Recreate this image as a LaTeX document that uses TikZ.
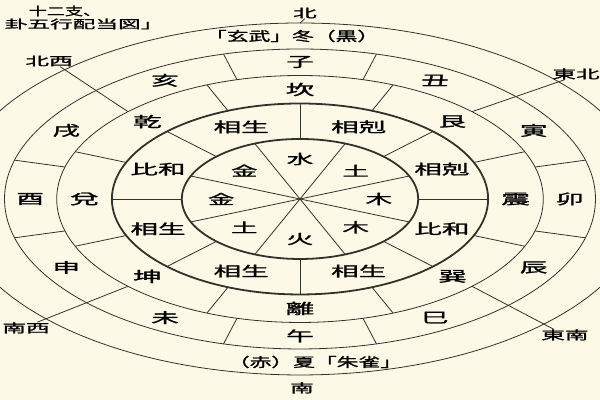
\documentclass[tikz,border=0pt]{standalone}
\usepackage{fontspec}
\setmainfont{Noto Sans CJK JP}[BoldFont=Noto Sans CJK JP,BoldFeatures={FakeBold=1.2}]
\definecolor{paper}{RGB}{252,250,230}
\definecolor{ink}{RGB}{50,50,45}
\tikzset{
  ringtext/.style={transform shape,inner sep=0pt,text=black},
  elem/.style={ringtext,font=\fontsize{13.5}{13.5}\selectfont\bfseries},
  relation/.style={ringtext,font=\fontsize{14}{14}\selectfont\bfseries},
  trigram/.style={ringtext,font=\fontsize{14.5}{14.5}\selectfont\bfseries},
  branch/.style={ringtext,font=\fontsize{14}{14}\selectfont\bfseries},
  season/.style={ringtext,xscale=0.85,font=\fontsize{13}{13}\selectfont\bfseries},
  compass/.style={ringtext,font=\fontsize{12}{12}\selectfont\bfseries},
  heading/.style={ringtext,font=\fontsize{11.5}{11.5}\selectfont\bfseries},
  divline/.style={draw=ink,line width=0.8pt},
  boldring/.style={draw=ink,line width=1.8pt}
}
\begin{document}
\begin{tikzpicture}[x=1pt,y=1pt,xscale=1.97]
  \useasboundingbox (-152.3,-201) rectangle (152.3,199);
  \fill[paper] (-152.3,-201) rectangle (152.3,199);
  \clip (-152.3,-201) rectangle (152.3,199);
  \draw[divline] (0,0) circle (176) (0,0) circle (150) (0,0) circle (123.5);
  \draw[boldring] (0,0) circle (95.5) (0,0) circle (60);
  \draw
    (90:40) node[elem] (e0){水}
    (45:40) node[elem] (e1){土}
    (0:40) node[elem] (e2){木}
    (-45:40) node[elem] (e3){木}
    (-90:40) node[elem] (e4){火}
    (-135:40) node[elem] (e5){土}
    (180:40) node[elem] (e6){金}
    (135:40) node[elem] (e7){金};
  \draw
    (67.5:78) node[relation] (r0){相剋}
    (22.5:78) node[relation] (r1){相剋}
    (-22.5:78) node[relation] (r2){比和}
    (-67.5:78) node[relation] (r3){相生}
    (-112.5:78) node[relation] (r4){相生}
    (-157.5:78) node[relation] (r5){相生}
    (157.5:78) node[relation] (r6){比和}
    (112.5:78) node[relation] (r7){相生};
  \draw
    (90:109.5) node[trigram] (g0){坎}
    (45:109.5) node[trigram] (g1){艮}
    (0:109.5) node[trigram] (g2){震}
    (-45:109.5) node[trigram] (g3){巽}
    (-90:109.5) node[trigram] (g4){離}
    (-135:109.5) node[trigram] (g5){坤}
    (180:109.5) node[trigram] (g6){兌}
    (135:109.5) node[trigram] (g7){乾};
  \draw
    (90:137) node[branch] (b0){子}
    (60:137) node[branch] (b1){丑}
    (30:137) node[branch] (b2){寅}
    (0:137) node[branch] (b3){卯}
    (-30:137) node[branch] (b4){辰}
    (-60:137) node[branch] (b5){巳}
    (-90:137) node[branch] (b6){午}
    (-120:137) node[branch] (b7){未}
    (-150:137) node[branch] (b8){申}
    (180:137) node[branch] (b9){酉}
    (150:137) node[branch] (b10){戌}
    (120:137) node[branch] (b11){亥};
  \node[season] (winter) at (-4,163) {「玄武」冬（黒）};
  \node[season] (summer) at (7.6,-163) {（赤）夏「朱雀」};
  \node[compass] (n) at (2.5,186) {北};
  \node[compass] (s) at (1,-189) {南};
  \node[compass] (nw) at (-127.4,138) {北西};
  \node[compass] (ne) at (140.1,125) {東北};
  \node[compass] (sw) at (-139.1,-129) {南西};
  \node[compass] (se) at (134.5,-136) {東南};
  \node[heading,xscale=0.8] (head1) at (-119.3,188) {十二支、};
  \node[heading] (head2) at (-109.6,175) {卦五行配当図」};
  \begin{scope}[divline]
    \draw (22.5:60) -- (202.5:60);
    \draw (67.5:60) -- (247.5:60);
    \draw (112.5:60) -- (292.5:60);
    \draw (157.5:60) -- (337.5:60);
    \draw (0:60) -- (0:95.5);
    \draw (45:60) -- (45:95.5);
    \draw (90:60) -- (90:95.5);
    \draw (135:60) -- (135:95.5);
    \draw (180:60) -- (180:95.5);
    \draw (225:60) -- (225:95.5);
    \draw (270:60) -- (270:95.5);
    \draw (315:60) -- (315:95.5);
    \draw (22.5:95.5) -- (22.5:123.5);
    \draw (67.5:95.5) -- (67.5:123.5);
    \draw (112.5:95.5) -- (112.5:123.5);
    \draw (157.5:95.5) -- (157.5:123.5);
    \draw (202.5:95.5) -- (202.5:123.5);
    \draw (247.5:95.5) -- (247.5:123.5);
    \draw (292.5:95.5) -- (292.5:123.5);
    \draw (337.5:95.5) -- (337.5:123.5);
    \draw (15:123.5) -- (15:150);
    \draw (75:123.5) -- (75:150);
    \draw (105:123.5) -- (105:150);
    \draw (165:123.5) -- (165:150);
    \draw (195:123.5) -- (195:150);
    \draw (255:123.5) -- (255:150);
    \draw (285:123.5) -- (285:150);
    \draw (345:123.5) -- (345:150);
    \draw (45:123.5) -- (ne.-135);
    \draw (135:123.5) -- (nw.-45);
    \draw (225:123.5) -- (sw.45);
    \draw (315:123.5) -- (se.135);
    \draw (n.south) -- (90:176);
  \end{scope}
\end{tikzpicture}
\end{document}
